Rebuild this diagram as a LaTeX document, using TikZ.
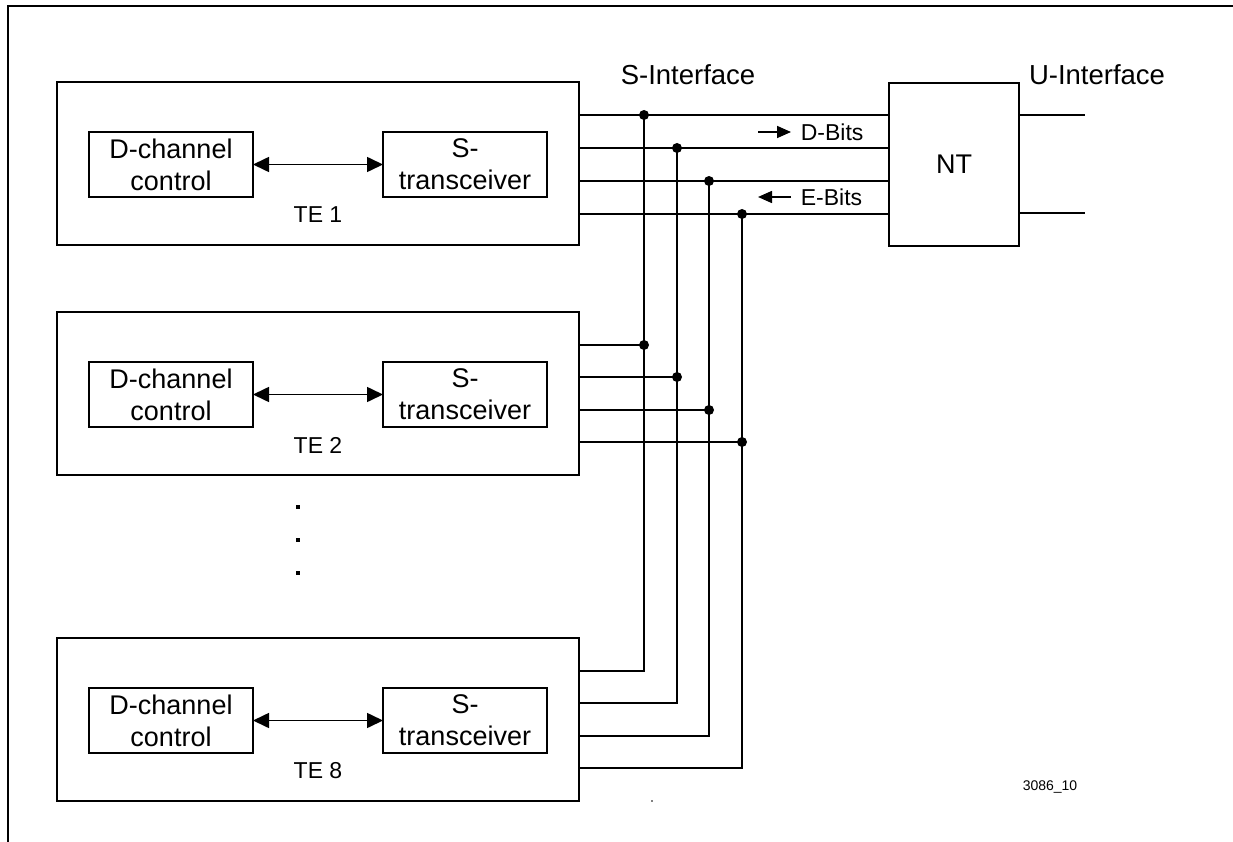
\documentclass[tikz,border=0pt]{standalone}
\usepackage{fontspec}
\setmainfont{Liberation Sans}
\usetikzlibrary{arrows.meta}
\begin{document}
\begin{tikzpicture}[x=1pt,y=-1pt,line width=1.6pt,
  tebox/.style={draw,rectangle,outer sep=0pt,inner sep=0pt,anchor=north west,minimum width=522pt,minimum height=163pt},
  inbox/.style={draw,rectangle,outer sep=0pt,inner sep=0pt,minimum width=164pt,minimum height=65pt,align=center,font=\fontsize{27}{32}\selectfont},
  ntbox/.style={draw,rectangle,outer sep=0pt,inner sep=0pt,minimum width=130pt,minimum height=163pt,font=\fontsize{27}{32}\selectfont},
  biglbl/.style={inner sep=0pt,font=\fontsize{27.5}{32}\selectfont},
  smalllbl/.style={inner sep=0pt,font=\fontsize{23}{27}\selectfont},
  tinylbl/.style={inner sep=0pt,font=\fontsize{14}{17}\selectfont},
  biarrow/.style={{Triangle[length=16pt,width=15pt]}-{Triangle[length=16pt,width=15pt]}},
  onearrow/.style={-{Triangle[length=14pt,width=12pt]}},
  junct/.style={circle,fill,inner sep=0pt,minimum size=10pt}
]
\useasboundingbox (0,0) rectangle (1233,842);
% frame
\draw[line width=2pt] (1233,6) -- (8,6) -- (8,842);

\newcommand\teblock[3]{%
  \node[tebox] (#1) at (57,#2) {};
  \node[inbox] (#1d) at (171,{#2+82.5}) {D-channel\\control};
  \node[inbox] (#1s) at (465,{#2+82.5}) {S-\\transceiver};
  \draw[biarrow] (#1d) -- (#1s);
  \node[smalllbl] (#1l) at (318,{#2+133}) {#3};
}
\teblock{teA}{82}{TE 1}
\teblock{teB}{312}{TE 2}
\teblock{teC}{638}{TE 8}

% NT
\node[ntbox] (nt) at (954,164.5) {NT};

% labels
\node[biglbl] (sif) at (688,75) {S-Interface};
\node[biglbl] (uif) at (1097,75) {U-Interface};
\node[tinylbl] (code) at (1050,787) {3086\_10};

% bus coordinates
\coordinate (a1) at (644,115);   \coordinate (a2) at (677,148);
\coordinate (a3) at (709,181);   \coordinate (a4) at (742,214);
\coordinate (b1) at (644,345);   \coordinate (b2) at (677,377);
\coordinate (b3) at (709,410);   \coordinate (b4) at (742,442);
\coordinate (c1) at (644,671);   \coordinate (c2) at (677,703);
\coordinate (c3) at (709,736);   \coordinate (c4) at (742,768);

\foreach \i in {1,2,3,4}{
  \draw (teA.east |- a\i) -- (nt.west |- a\i);
  \draw (teB.east |- b\i) -- (b\i);
  \draw (teC.east |- c\i) -- (c\i) -- (a\i);
  \node[junct] at (a\i) {};
  \node[junct] at (b\i) {};
}

% U-interface lines
\coordinate (u1) at (1085,115);
\coordinate (u2) at (1085,213);
\draw (nt.east |- u1) -- (u1);
\draw (nt.east |- u2) -- (u2);

% D-bits / E-bits
\coordinate (dA) at (758,132); \coordinate (dB) at (791,132);
\coordinate (eA) at (791,197); \coordinate (eB) at (758,197);
\draw[onearrow] (dA) -- (dB);
\draw[onearrow] (eA) -- (eB);
\node[smalllbl,anchor=west] (dbits) at (800,132) {D-Bits};
\node[smalllbl,anchor=west] (ebits) at (800,197) {E-Bits};

% vertical ellipsis
\fill (296,505) rectangle ++(4,4);
\fill (296,538) rectangle ++(4,4);
\fill (296,571) rectangle ++(4,4);

% stray dot
\fill (652,801) circle (0.8);
\end{tikzpicture}
\end{document}
